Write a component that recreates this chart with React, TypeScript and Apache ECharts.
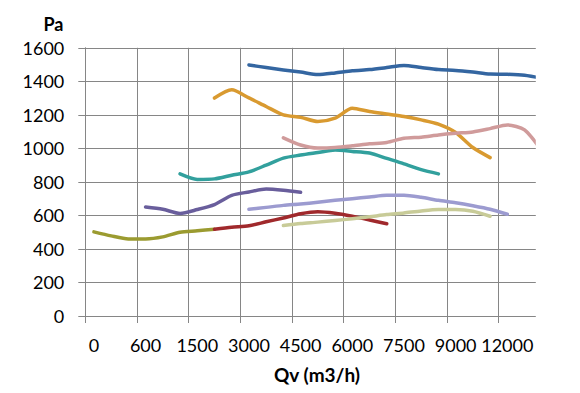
import React, { useEffect, useRef } from "react";
import * as echarts from "echarts";

const categories = [
  "0", "200", "400", "600", "900", "1200", "1500", "2000", "2500", "3000",
  "3500", "4000", "4500", "5000", "5500", "6000", "6500", "7000", "7500",
  "8000", "8500", "9000", "10000", "11000", "12000", "13000", "14000",
];

// Each series: first category index + values
const blueStart = 9;
const blueValues = [1498, 1482, 1468, 1455, 1440, 1450, 1463, 1470, 1482, 1495, 1482, 1470, 1465, 1455, 1443, 1442, 1436, 1418];

const orangeStart = 7;
const orangeValues = [1300, 1349, 1301, 1250, 1200, 1185, 1160, 1180, 1240, 1220, 1205, 1190, 1170, 1145, 1095, 1005, 945];

const pinkStart = 11;
const pinkValues = [1063, 1020, 1002, 1005, 1015, 1027, 1035, 1060, 1067, 1080, 1090, 1098, 1118, 1140, 1110, 985];

const tealStart = 5;
const tealValues = [848, 815, 818, 840, 860, 900, 942, 960, 975, 990, 982, 972, 940, 908, 873, 848];

const purpleStart = 3;
const purpleValues = [650, 637, 612, 635, 665, 720, 740, 757, 750, 738];

const oliveStart = 0;
const oliveValues = [502, 478, 460, 460, 472, 500, 508, 518];

const redStart = 7;
const redValues = [518, 530, 538, 562, 585, 610, 622, 613, 595, 573, 550];

const lavenderStart = 9;
const lavenderValues = [637, 648, 660, 668, 678, 690, 700, 710, 720, 720, 708, 690, 676, 658, 637, 607];

const khakiStart = 11;
const khakiValues = [540, 552, 560, 570, 580, 592, 605, 615, 627, 635, 635, 625, 595];

const yTicks = [0, 200, 400, 600, 800, 1000, 1200, 1400, 1600];

function pad(start: number, values: number[]) {
  const arr: (number | null)[] = new Array(categories.length).fill(null);
  values.forEach((v, i) => {
    arr[start + i] = v;
  });
  return arr;
}

const seriesDefs = [
  { name: "A", start: oliveStart, values: oliveValues, color: "#9B9B30" },
  { name: "B", start: redStart, values: redValues, color: "#A0292C" },
  { name: "C", start: purpleStart, values: purpleValues, color: "#695E9C" },
  { name: "D", start: tealStart, values: tealValues, color: "#32A09D" },
  { name: "E", start: orangeStart, values: orangeValues, color: "#D99A30" },
  { name: "F", start: blueStart, values: blueValues, color: "#3466A1" },
  { name: "G", start: pinkStart, values: pinkValues, color: "#D09B9B" },
  { name: "H", start: lavenderStart, values: lavenderValues, color: "#9C9BD0" },
  { name: "I", start: khakiStart, values: khakiValues, color: "#C8CB98" },
];

const GRID = "#868686";
const FONT = "Lato";

export default function App() {
  const ref = useRef<HTMLDivElement>(null);
  useEffect(() => {
    if (!ref.current) return;
    const chart = echarts.init(ref.current, undefined, { renderer: "svg" });
    const catW = 17.225;
    chart.setOption({
      animation: false,
      grid: { left: 85.3, top: 47.8, width: catW * categories.length, height: 268.2 },
      xAxis: {
        type: "category",
        data: categories,
        boundaryGap: true,
        axisLine: { show: true, lineStyle: { color: GRID, width: 1 } },
        axisTick: { show: true, interval: 2, length: 7, lineStyle: { color: GRID } },
        axisLabel: { interval: 2, margin: 20, color: "#000", fontFamily: FONT, fontSize: 18 },
        splitLine: { show: true, interval: 2, lineStyle: { color: GRID, width: 1 } },
      },
      yAxis: {
        type: "value",
        min: yTicks[0],
        max: yTicks[yTicks.length - 1],
        interval: 200,
        axisLine: { show: true, lineStyle: { color: GRID, width: 1 } },
        axisTick: { show: true, length: 7, lineStyle: { color: GRID } },
        axisLabel: {
          margin: 21,
          color: "#000",
          fontFamily: FONT,
          fontSize: 18,
          formatter: (v: number) => String(v),
        },
        splitLine: { show: true, lineStyle: { color: GRID, width: 1 } },
      },
      series: seriesDefs.map((s) => ({
        name: s.name,
        type: "line",
        data: pad(s.start, s.values),
        showSymbol: false,
        symbol: "none",
        smooth: 0.25,
        clip: true,
        lineStyle: { color: s.color, width: 3.5, cap: "round", join: "round" },
        itemStyle: { color: s.color },
      })),
      graphic: [
        {
          type: "rect",
          z: 100,
          shape: { x: 535.8, y: 30, width: 50, height: 310 },
          style: { fill: "#ffffff" },
        },
        {
          type: "text",
          z: 101,
          x: 63.5,
          y: 24,
          style: {
            text: "Pa",
            fontFamily: FONT,
            fontWeight: "bold",
            fontSize: 18,
            fill: "#000",
            textAlign: "right",
            textVerticalAlign: "middle",
          },
        },
        {
          type: "text",
          z: 101,
          x: 317,
          y: 374,
          style: {
            text: "Qv (m3/h)",
            fontFamily: FONT,
            fontWeight: "bold",
            fontSize: 19,
            fill: "#000",
            textAlign: "center",
            textVerticalAlign: "middle",
          },
        },
      ],
    });
    return () => chart.dispose();
  }, []);
  return (
    <div
      ref={ref}
      style={{ position: "fixed", left: 0, top: 0, width: 580, height: 393, background: "#fff" }}
    />
  );
}
